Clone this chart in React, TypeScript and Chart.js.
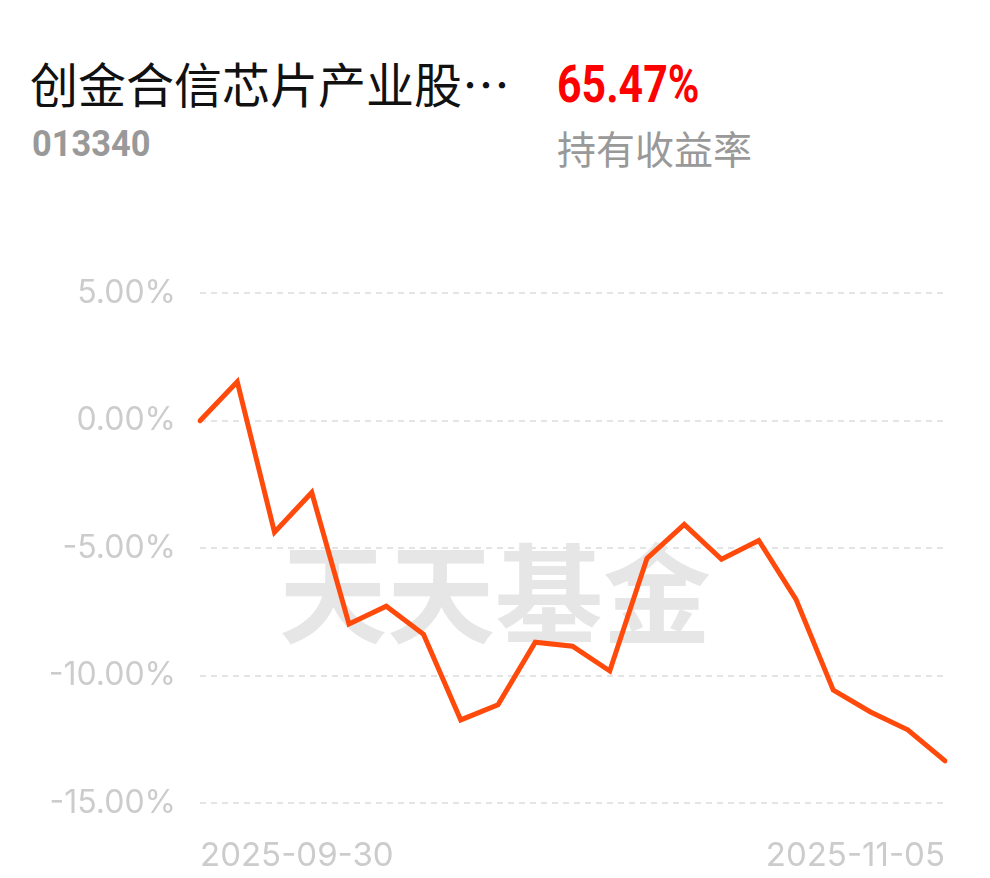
import React, { useEffect, useRef } from "react";
import { Chart, registerables } from "chart.js";

Chart.register(...registerables);

const dates = [
  "2025-09-30", "2025-10-09", "2025-10-10", "2025-10-13", "2025-10-14", "2025-10-15", "2025-10-16",
  "2025-10-17", "2025-10-20", "2025-10-21", "2025-10-22", "2025-10-23", "2025-10-24", "2025-10-27",
  "2025-10-28", "2025-10-29", "2025-10-30", "2025-10-31", "2025-11-03", "2025-11-04", "2025-11-05",
];
const returns = [
  0.0, 1.53, -4.38, -2.82, -7.98, -7.28, -8.38, -11.74, -11.15, -8.69, -8.85,
  -9.82, -5.4, -4.07, -5.44, -4.7, -7.01, -10.57, -11.43, -12.13, -13.35,
];
const yTicks = [5, 0, -5, -10, -15];
const fundName = "创金合信芯片产业股…";
const fundCode = "013340";
const holdReturn = "65.47%";
const holdLabel = "持有收益率";
const watermark = "天天基金";

const watermarkPlugin = {
  id: "watermark",
  beforeDatasetsDraw(chart: any) {
    const { ctx } = chart;
    ctx.save();
    ctx.font = "bold 108px 'Noto Sans CJK SC'";
    ctx.fillStyle = "#e6e6e6";
    ctx.textAlign = "center";
    ctx.textBaseline = "middle";
    const x = chart.width / 2;
    const y = chart.scales.y.getPixelForValue(-6.8);
    ctx.fillText(watermark, x, y);
    ctx.restore();
  },
};

export default function App() {
  const ref = useRef<HTMLCanvasElement>(null);
  useEffect(() => {
    if (!ref.current) return;
    const chart = new Chart(ref.current, {
      type: "line",
      data: {
        labels: dates,
        datasets: [
          {
            data: returns,
            borderColor: "#FF4A0C",
            borderWidth: 5,
            pointRadius: 0,
            tension: 0,
            fill: false,
            borderCapStyle: "round",
          },
        ],
      },
      options: {
        animation: false,
        responsive: false,
        events: [],
        layout: { padding: { top: 42, right: 45, left: 0, bottom: 0 } },
        plugins: { legend: { display: false }, tooltip: { enabled: false } },
        scales: {
          x: {
            grid: { display: false },
            border: { display: false },
            afterFit(scale: any) {
              scale.height = 75;
            },
            ticks: {
              autoSkip: false,
              maxRotation: 0,
              align: "inner",
              padding: 25,
              color: "#cccccc",
              font: { family: "Inter", size: 33 },
              callback: (_v: any, i: number) =>
                i === 0 || i === dates.length - 1 ? dates[i] : "",
            },
          },
          y: {
            min: -15,
            max: 5,
            afterFit(scale: any) {
              scale.width = 200;
            },
            afterBuildTicks(scale: any) {
              scale.ticks = yTicks.map((v) => ({ value: v }));
            },
            grid: { color: "#e4e4e4", lineWidth: 2, drawTicks: false },
            border: { display: false, dash: [6, 5] },
            ticks: {
              padding: 24,
              color: "#cccccc",
              font: { family: "Inter", size: 32 },
              callback: (v: any) => Number(v).toFixed(2) + "%",
            },
          },
        },
      },
      plugins: [watermarkPlugin],
    } as any);
    return () => chart.destroy();
  }, []);

  return (
    <div
      style={{
        position: "fixed",
        left: 0,
        top: 0,
        width: 990,
        height: 878,
        background: "#fff",
        fontFamily: "'Noto Sans CJK SC', Roboto, sans-serif",
      }}
    >
      <div
        style={{
          position: "absolute",
          left: 30,
          top: 54,
          fontSize: 48,
          lineHeight: "56px",
          color: "#111",
          whiteSpace: "nowrap",
        }}
      >
        {fundName}
      </div>
      <div
        style={{
          position: "absolute",
          left: 32,
          top: 124,
          fontSize: 37,
          lineHeight: "40px",
          fontWeight: 700,
          color: "#999",
          fontFamily: "Roboto",
          transform: "scaleX(0.93)",
          transformOrigin: "left center",
        }}
      >
        {fundCode}
      </div>
      <div
        style={{
          position: "absolute",
          left: 557,
          top: 57,
          fontSize: 51,
          lineHeight: "56px",
          fontWeight: 700,
          color: "#FF0000",
          fontFamily: "Roboto",
          transform: "scaleX(0.84)",
          transformOrigin: "left center",
        }}
      >
        {holdReturn}
      </div>
      <div
        style={{
          position: "absolute",
          left: 557,
          top: 123,
          fontSize: 39,
          lineHeight: "48px",
          color: "#999",
          whiteSpace: "nowrap",
        }}
      >
        {holdLabel}
      </div>
      <canvas
        ref={ref}
        width={990}
        height={628}
        style={{ position: "absolute", left: 0, top: 250, width: 990, height: 628 }}
      />
    </div>
  );
}
